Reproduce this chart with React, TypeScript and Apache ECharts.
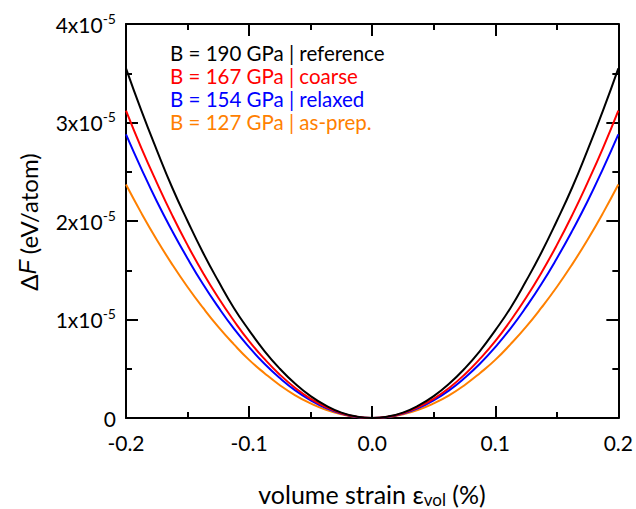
import React, { useEffect, useRef } from "react";
import * as echarts from "echarts";

const strain = [
  -0.2, -0.1875, -0.175, -0.1625, -0.15, -0.1375, -0.125, -0.1125, -0.1, -0.0875, -0.075, -0.0625, -0.05, -0.0375, -0.025, -0.0125,
  0, 0.0125, 0.025, 0.0375, 0.05, 0.0625, 0.075, 0.0875, 0.1, 0.1125, 0.125, 0.1375, 0.15, 0.1625, 0.175, 0.1875, 0.2,
];
// values in units of 1e-5 eV/atom
const reference = [
  3.55, 3.12, 2.72, 2.34, 2.0, 1.68, 1.39, 1.12, 0.89, 0.68, 0.5, 0.347, 0.222, 0.125, 0.055, 0.014,
  0, 0.014, 0.055, 0.125, 0.222, 0.347, 0.5, 0.68, 0.89, 1.12, 1.39, 1.68, 2.0, 2.34, 2.72, 3.12, 3.55,
];
const coarse = [
  3.12, 2.74, 2.39, 2.06, 1.755, 1.475, 1.22, 0.99, 0.78, 0.6, 0.44, 0.305, 0.195, 0.11, 0.049, 0.012,
  0, 0.012, 0.049, 0.11, 0.195, 0.305, 0.44, 0.6, 0.78, 0.99, 1.22, 1.475, 1.755, 2.06, 2.39, 2.74, 3.12,
];
const relaxed = [
  2.88, 2.53, 2.2, 1.9, 1.62, 1.36, 1.125, 0.91, 0.72, 0.55, 0.405, 0.28, 0.18, 0.1, 0.045, 0.011,
  0, 0.011, 0.045, 0.1, 0.18, 0.28, 0.405, 0.55, 0.72, 0.91, 1.125, 1.36, 1.62, 1.9, 2.2, 2.53, 2.88,
];
const asPrep = [
  2.37, 2.08, 1.81, 1.56, 1.33, 1.12, 0.925, 0.75, 0.59, 0.455, 0.333, 0.23, 0.148, 0.083, 0.037, 0.009,
  0, 0.009, 0.037, 0.083, 0.148, 0.23, 0.333, 0.455, 0.59, 0.75, 0.925, 1.12, 1.33, 1.56, 1.81, 2.08, 2.37,
];
const labels = ["B = 190 GPa | reference", "B = 167 GPa | coarse", "B = 154 GPa | relaxed", "B = 127 GPa | as-prep."];
const colors = ["#000000", "#ff0000", "#0000ff", "#ff8000"];

const X_MIN = -0.2;
const X_MAX = 0.2;
const Y_MIN = 0;
const Y_MAX = 4;

const FONT = "Lato";

function axisParts() {
  return {
    axisLine: { show: true, onZero: false, lineStyle: { color: "#000", width: 2 } },
    axisTick: { show: true, inside: true, length: 12, lineStyle: { color: "#000", width: 2 } },
    minorTick: { show: true, splitNumber: 2, length: 6, lineStyle: { color: "#000", width: 2 } },
    splitLine: { show: true, lineStyle: { color: "rgba(255,255,255,0)", width: 1 } },
    minorSplitLine: { show: false },
  };
}

export default function App() {
  const ref = useRef<HTMLDivElement>(null);
  useEffect(() => {
    const chart = echarts.init(ref.current!, null, { renderer: "svg" });
    const seriesData = [reference, coarse, relaxed, asPrep];

    chart.setOption({
      animation: false,
      grid: { left: 126, right: 16, top: 24, bottom: 91 },
      xAxis: [
        {
          type: "value", min: X_MIN, max: X_MAX, interval: 0.1, position: "bottom",
          ...axisParts(),
          axisLabel: { fontFamily: FONT, fontSize: 21, color: "#000", margin: 14, formatter: (v: number) => v.toFixed(1) },
        },
        {
          type: "value", min: X_MIN, max: X_MAX, interval: 0.1, position: "top",
          ...axisParts(),
          axisLabel: { show: true, color: "rgba(255,255,255,0)", fontSize: 1, formatter: () => "" },
        },
      ],
      yAxis: [
        {
          type: "value", min: Y_MIN, max: Y_MAX, interval: 1, position: "left",
          ...axisParts(),
          axisLabel: {
            fontFamily: FONT, fontSize: 21, color: "#000", margin: 10,
            formatter: (v: number) => (v === 0 ? "{b|0}" : `{b|${v}x10}{s|-5}`),
            rich: {
              b: { fontFamily: FONT, fontSize: 21, color: "#000" },
              s: { fontFamily: FONT, fontSize: 14, color: "#000", verticalAlign: "bottom", padding: [0, 0, 12, 0] },
            },
          },
        },
        {
          type: "value", min: Y_MIN, max: Y_MAX, interval: 1, position: "right",
          ...axisParts(),
          axisLabel: { show: true, color: "rgba(255,255,255,0)", fontSize: 1, formatter: () => "" },
        },
      ],
      series: [3, 2, 1, 0].map((i) => ({
        type: "line",
        name: labels[i],
        data: strain.map((x, k) => [x, seriesData[i][k]]),
        smooth: true,
        showSymbol: false,
        lineStyle: { color: colors[i], width: 2 },
        itemStyle: { color: colors[i] },
        z: 10 - i,
      })),
      graphic: [
        ...labels.map((t, i) => ({
          type: "text",
          left: 170,
          top: 42 + i * 23,
          style: { text: t, fill: colors[i], fontFamily: FONT, fontSize: 20.5 },
        })),
        {
          type: "text",
          x: 372,
          y: 494,
          style: {
            text: "volume strain ε{sub|vol} (%)",
            fill: "#000",
            fontFamily: FONT,
            fontSize: 25,
            align: "center",
            verticalAlign: "middle",
            rich: {
              sub: { fontFamily: FONT, fontSize: 17, fill: "#000", verticalAlign: "top", padding: [11, 0, 0, 0] },
            },
          },
        },
        {
          type: "text",
          x: 28,
          y: 222,
          rotation: Math.PI / 2,
          style: {
            text: "{n|Δ}{i|F}{n| (eV/atom)}",
            fill: "#000",
            fontFamily: FONT,
            fontSize: 24,
            align: "center",
            verticalAlign: "middle",
            rich: {
              n: { fontFamily: FONT, fontSize: 24, fill: "#000" },
              i: { fontFamily: "Liberation Sans", fontSize: 23, fontStyle: "italic", fill: "#000" },
            },
          },
        },
      ],
    });
    return () => chart.dispose();
  }, []);
  return <div ref={ref} style={{ position: "absolute", left: 0, top: 0, width: 636, height: 509 }} />;
}
